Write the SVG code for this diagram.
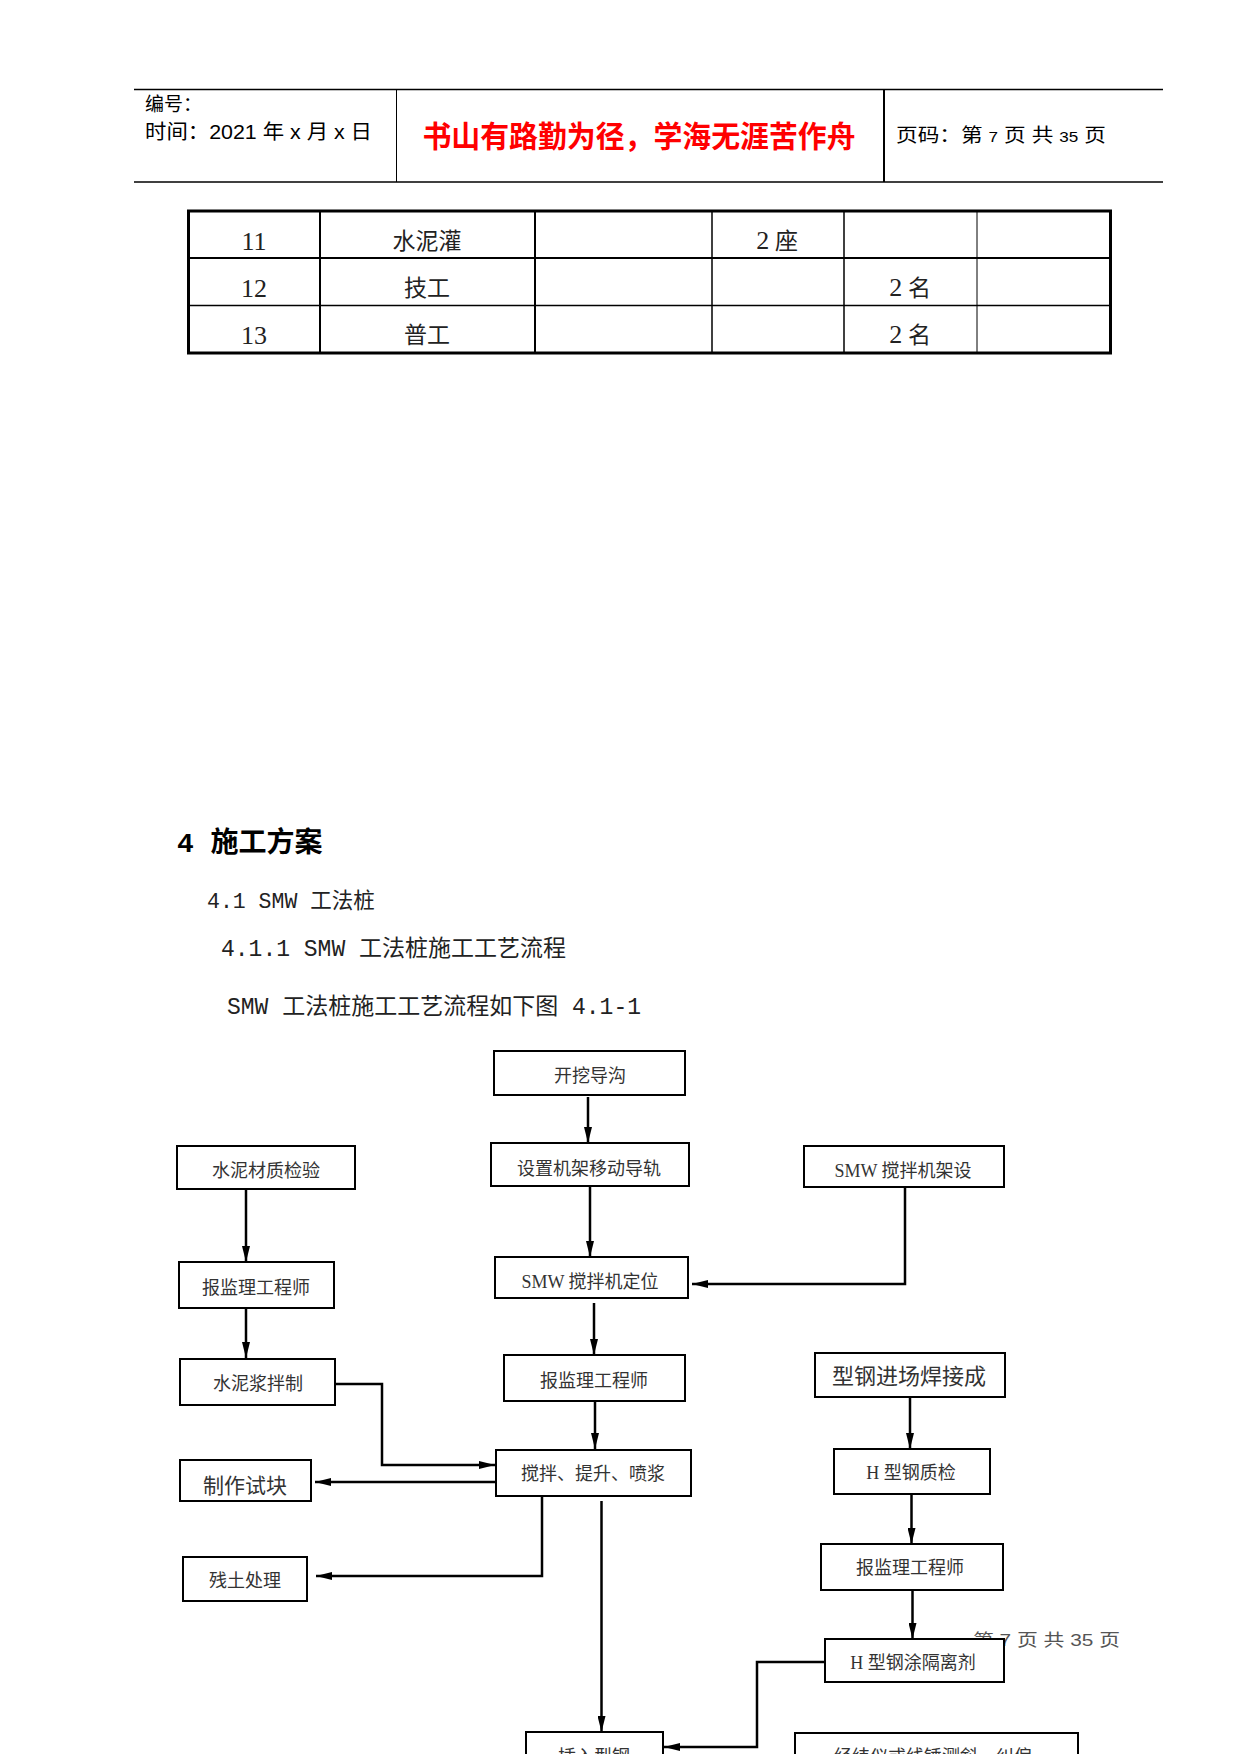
<svg xmlns="http://www.w3.org/2000/svg" width="1241" height="1754" viewBox="0 0 1241 1754">
<defs>
<style>
.hdr{font-family:"Liberation Sans","Noto Sans CJK SC",sans-serif;fill:#000}
.red{font-family:"Noto Sans CJK SC",sans-serif;font-weight:bold;fill:#ff0000}
.tb{font-family:"Liberation Serif","Noto Sans CJK SC",serif;font-size:23px;fill:#222;text-anchor:middle}
.num{font-size:26px}
.h1{font-family:"Liberation Mono","Noto Sans CJK SC",monospace;font-weight:bold;font-size:28px;fill:#000}
.h2{font-family:"Liberation Mono","Noto Sans CJK SC",monospace;fill:#222}
.box rect{fill:#fff;stroke:#000;stroke-width:2}
.box text{font-family:"Liberation Serif","Noto Sans CJK SC",serif;font-size:18px;fill:#333;text-anchor:middle}
.conn path{fill:none;stroke:#000;stroke-width:2.5}
.foot{font-family:"Liberation Sans","Noto Sans CJK SC",sans-serif;font-size:17px;fill:#555}
</style>
<marker id="ah" markerUnits="userSpaceOnUse" viewBox="0 0 16 8" refX="16" refY="4" markerWidth="16" markerHeight="8" orient="auto">
<path d="M0,0 L16,4 L0,8 z" fill="#000"/>
</marker>
</defs>
<rect width="1241" height="1754" fill="#fff"/>

<g id="header">
<line x1="134" y1="89.5" x2="1163" y2="89.5" stroke="#000" stroke-width="1.5"/>
<line x1="134" y1="182" x2="1163" y2="182" stroke="#000" stroke-width="1.5"/>
<line x1="396.5" y1="89.5" x2="396.5" y2="182" stroke="#000" stroke-width="1"/>
<line x1="884" y1="89.5" x2="884" y2="182" stroke="#000" stroke-width="2"/>
<text class="hdr" x="145" y="111" font-size="19">编号：</text>
<text class="hdr" x="145" y="139" font-size="20" textLength="227" lengthAdjust="spacingAndGlyphs">时间：2021 年 x 月 x 日</text>
<text class="red" x="639" y="147" font-size="30" text-anchor="middle" textLength="433" lengthAdjust="spacingAndGlyphs">书山有路勤为径，学海无涯苦作舟</text>
<text class="hdr" x="896" y="142" font-size="19" textLength="210" lengthAdjust="spacingAndGlyphs">页码：第 <tspan font-size="15">7</tspan> 页  共 <tspan font-size="15">35</tspan> 页</text>
</g>

<g id="table">
<rect x="188.5" y="211" width="922" height="142" fill="none" stroke="#000" stroke-width="3"/>
<line x1="188" y1="258" x2="1111" y2="258" stroke="#000" stroke-width="2"/>
<line x1="188" y1="305.5" x2="1111" y2="305.5" stroke="#000" stroke-width="1.5"/>
<line x1="320" y1="211" x2="320" y2="353" stroke="#000" stroke-width="2"/>
<line x1="535" y1="211" x2="535" y2="353" stroke="#000" stroke-width="2"/>
<line x1="712" y1="211" x2="712" y2="353" stroke="#000" stroke-width="1.5"/>
<line x1="844" y1="211" x2="844" y2="353" stroke="#000" stroke-width="1.5"/>
<line x1="977" y1="211" x2="977" y2="353" stroke="#000" stroke-width="1"/>
<text class="tb num" x="254" y="250">11</text>
<text class="tb" x="427" y="249">水泥灌</text>
<text class="tb" x="777" y="249"><tspan class="num">2</tspan> 座</text>
<text class="tb num" x="254" y="297">12</text>
<text class="tb" x="427" y="296">技工</text>
<text class="tb" x="910" y="296"><tspan class="num">2</tspan> 名</text>
<text class="tb num" x="254" y="344">13</text>
<text class="tb" x="427" y="343">普工</text>
<text class="tb" x="910" y="343"><tspan class="num">2</tspan> 名</text>
</g>

<g id="headings">
<text class="h1" x="177" y="852">4 施工方案</text>
<text class="h2" x="207" y="908" font-size="21.5">4.1 SMW 工法桩</text>
<text class="h2" x="221" y="956" font-size="23">4.1.1 SMW 工法桩施工工艺流程</text>
<text class="h2" x="227" y="1014" font-size="23">SMW 工法桩施工工艺流程如下图 4.1-1</text>
</g>

<text id="footer" class="foot" x="973" y="1646" textLength="147" lengthAdjust="spacingAndGlyphs">第 7 页 共 35 页</text>

<g id="connectors" class="conn">
<path d="M588,1097 V1143" marker-end="url(#ah)"/>
<path d="M590,1186 V1257" marker-end="url(#ah)"/>
<path d="M905,1187 V1284 H692" marker-end="url(#ah)"/>
<path d="M246,1189 V1262" marker-end="url(#ah)"/>
<path d="M246,1308 V1358" marker-end="url(#ah)"/>
<path d="M594,1303 V1355" marker-end="url(#ah)"/>
<path d="M595,1401 V1449" marker-end="url(#ah)"/>
<path d="M335,1384 H382 V1465 H495" marker-end="url(#ah)"/>
<path d="M496,1482 H315" marker-end="url(#ah)"/>
<path d="M542,1496 V1576 H316" marker-end="url(#ah)"/>
<path d="M601.5,1501 V1732" marker-end="url(#ah)"/>
<path d="M910,1397 V1449" marker-end="url(#ah)"/>
<path d="M911.5,1494 V1544" marker-end="url(#ah)"/>
<path d="M912.5,1590 V1639" marker-end="url(#ah)"/>
<path d="M825,1662 H757 V1747 H664" marker-end="url(#ah)"/>
</g>

<g id="n1" class="box"><rect x="494" y="1051" width="191" height="44"/><text x="590" y="1082">开挖导沟</text></g>
<g id="n2" class="box"><rect x="491" y="1143" width="198" height="43"/><text x="589" y="1175">设置机架移动导轨</text></g>
<g id="n3" class="box"><rect x="804" y="1146" width="200" height="41"/><text x="903" y="1177">SMW 搅拌机架设</text></g>
<g id="n4" class="box"><rect x="177" y="1146" width="178" height="43"/><text x="266" y="1177">水泥材质检验</text></g>
<g id="n5" class="box"><rect x="179" y="1262" width="155" height="46"/><text x="256" y="1294">报监理工程师</text></g>
<g id="n6" class="box"><rect x="495" y="1257" width="193" height="41"/><text x="590" y="1288">SMW 搅拌机定位</text></g>
<g id="n7" class="box"><rect x="180" y="1359" width="155" height="46"/><text x="258" y="1390">水泥浆拌制</text></g>
<g id="n8" class="box"><rect x="504" y="1355" width="181" height="46"/><text x="594" y="1387">报监理工程师</text></g>
<g id="n9" class="box"><rect x="815" y="1353" width="190" height="44"/><text x="909" y="1384" style="font-size:22px">型钢进场焊接成</text></g>
<g id="n10" class="box"><rect x="496" y="1450" width="195" height="46"/><text x="593" y="1480">搅拌、提升、喷浆</text></g>
<g id="n11" class="box"><rect x="180" y="1460" width="131" height="41"/><text x="245" y="1493" style="font-size:21px">制作试块</text></g>
<g id="n12" class="box"><rect x="834" y="1449" width="156" height="45"/><text x="911" y="1479">H  型钢质检</text></g>
<g id="n13" class="box"><rect x="183" y="1557" width="124" height="44"/><text x="245" y="1587">残土处理</text></g>
<g id="n14" class="box"><rect x="821" y="1544" width="182" height="46"/><text x="910" y="1574">报监理工程师</text></g>
<g id="n15" class="box"><rect x="825" y="1639" width="179" height="43"/><text x="913" y="1669">H 型钢涂隔离剂</text></g>
<g id="n16" class="box"><rect x="526" y="1732" width="137" height="40"/><text x="594" y="1763">插入型钢</text></g>
<g id="n17" class="box"><rect x="795" y="1733" width="283" height="40"/><text x="933" y="1763">经纬仪或线锤测斜、纠偏</text></g>
</svg>
